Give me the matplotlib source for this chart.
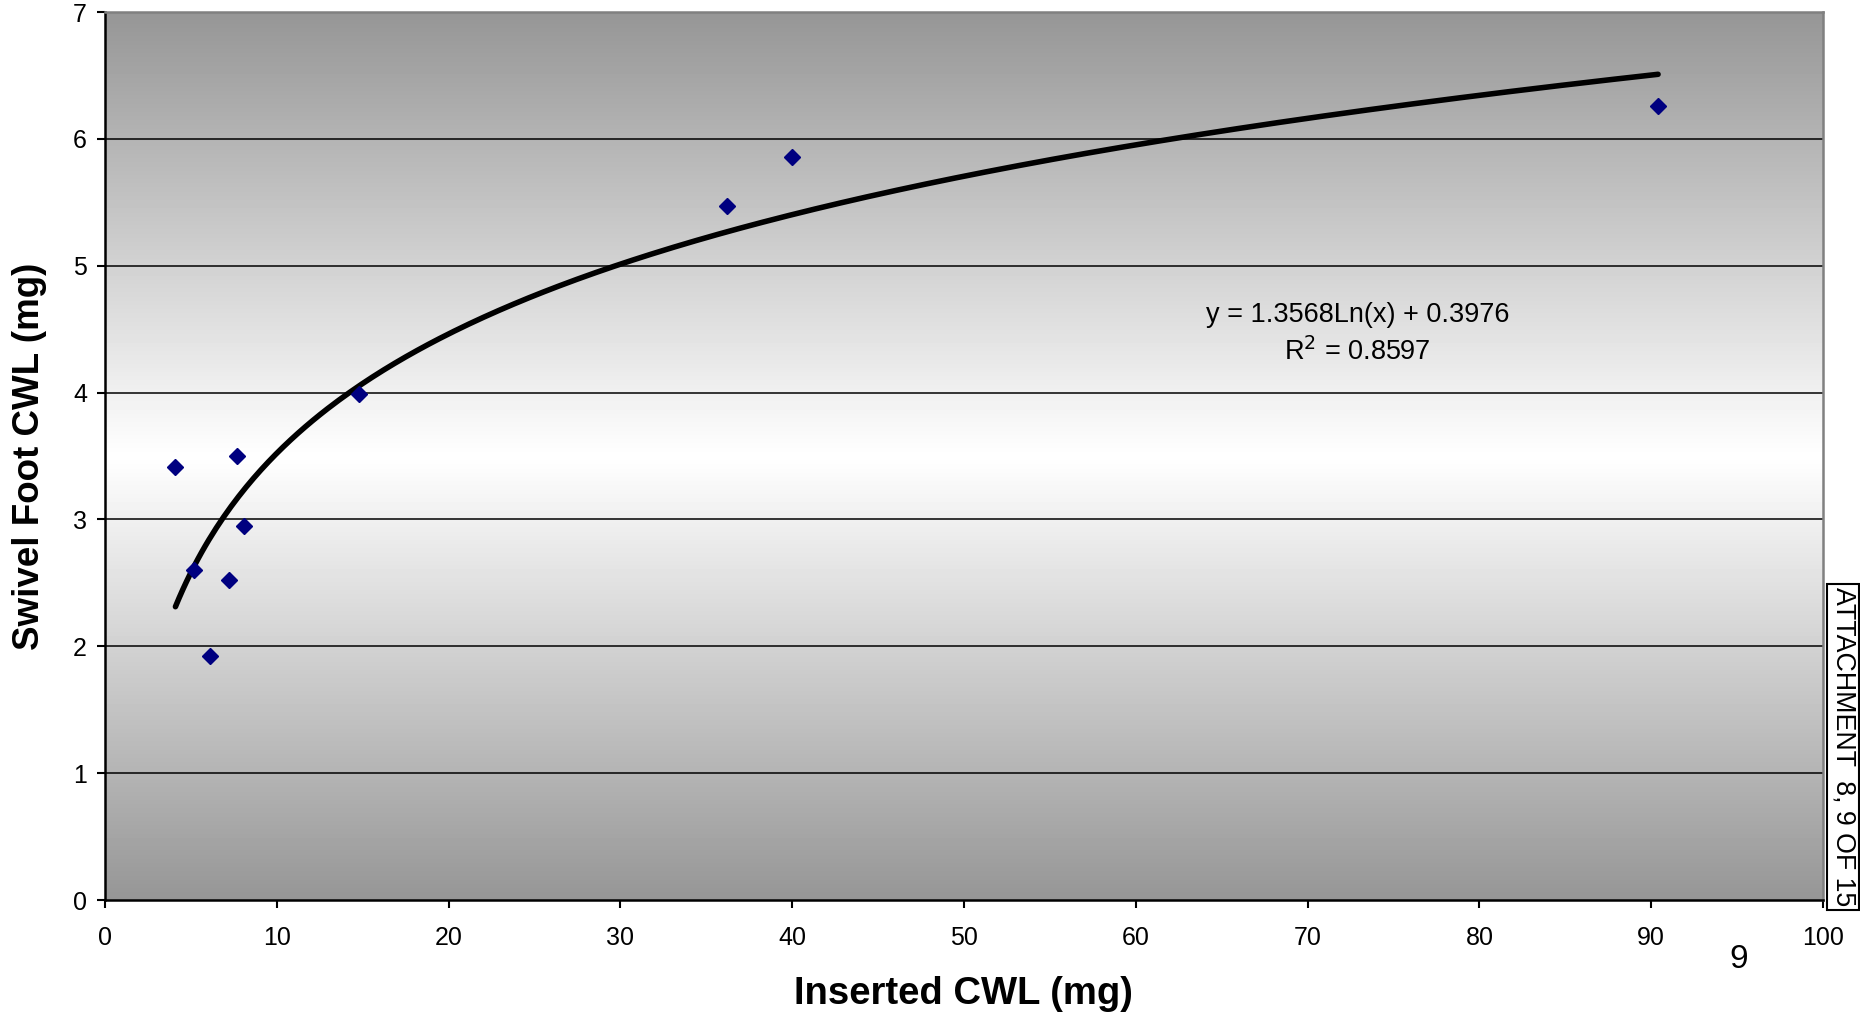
import numpy as np
import matplotlib
matplotlib.use("Agg")
import matplotlib.pyplot as plt

plt.rcParams['font.family'] = ['Liberation Sans', 'DejaVu Sans']

# measured data (mg)
inserted = [4.1, 5.2, 6.1, 7.2, 7.7, 8.1, 14.8, 36.2, 40.0, 90.4]
swivel = [3.41, 2.60, 1.92, 2.52, 3.50, 2.95, 3.99, 5.47, 5.86, 6.26]

# log trendline from the chart label
slope = 1.3568
intercept = 0.3976
r2 = 0.8597

fig = plt.figure(figsize=(18.6, 10.14), dpi=100)
ax = fig.add_axes([105 / 1860, 1 - 900 / 1014, 1718 / 1860, 888 / 1014])

# grey-white-grey gradient background
yy = np.linspace(0, 1, 256)
shade = 150 + 105 * (1 - np.abs(yy - 0.5) * 2)
grad = np.repeat((shade / 255.0)[:, None], 2, axis=1)
ax.imshow(grad, extent=[0, 100, 0, 7], origin="lower", aspect="auto",
          cmap="gray", vmin=0, vmax=1, zorder=0, interpolation="bilinear")

for g in range(1, 7):
    ax.axhline(g, color="black", lw=1.1, zorder=1)

xs = np.linspace(min(inserted), max(inserted), 400)
ax.plot(xs, slope * np.log(xs) + intercept, color="black", lw=4,
        solid_capstyle="round", zorder=2)
ax.plot(inserted, swivel, linestyle="none", marker="D", ms=8,
        color="#000080", zorder=3)

ax.set_xlim(0, 100)
ax.set_ylim(0, 7)
ax.set_xticks(range(0, 101, 10))
ax.set_yticks(range(0, 8))
ax.tick_params(axis="both", direction="out", length=6, width=1.5,
               labelsize=18, color="black")
ax.tick_params(axis="x", pad=13)
ax.tick_params(axis="y", pad=7)

for s in ("left", "bottom"):
    ax.spines[s].set_color("black")
    ax.spines[s].set_linewidth(1.8)
for s in ("top", "right"):
    ax.spines[s].set_color("#808080")
    ax.spines[s].set_linewidth(1.8)

fig.text(963 / 1860, 1 - 994 / 1014, "Inserted CWL (mg)", ha="center",
         va="center", fontsize=27.5, fontweight="bold")
fig.text(30 / 1860, 1 - 456 / 1014, "Swivel Foot CWL (mg)", ha="center",
         va="center", rotation=90, fontsize=26.5, fontweight="bold")

ax.text(72.9, 4.61, "y = %.4fLn(x) + 0.3976" % slope, ha="center",
        va="center", fontsize=19.5, zorder=4)
ax.text(72.9, 4.32, r"R$^2$ = %.4f" % r2, ha="center", va="center",
        fontsize=19.5, zorder=4)

fig.text(1739 / 1860, 1 - 960 / 1014, "9", ha="center", va="center",
         fontsize=24)
fig.text(1843 / 1860, 1 - 747 / 1014, "ATTACHMENT  8, 9 OF 15",
         rotation=-90, ha="center", va="center", fontsize=19.3,
         bbox=dict(boxstyle="square,pad=0.12", fc="white", ec="black",
                   lw=1.5))

fig.savefig("out.png", dpi=100)
